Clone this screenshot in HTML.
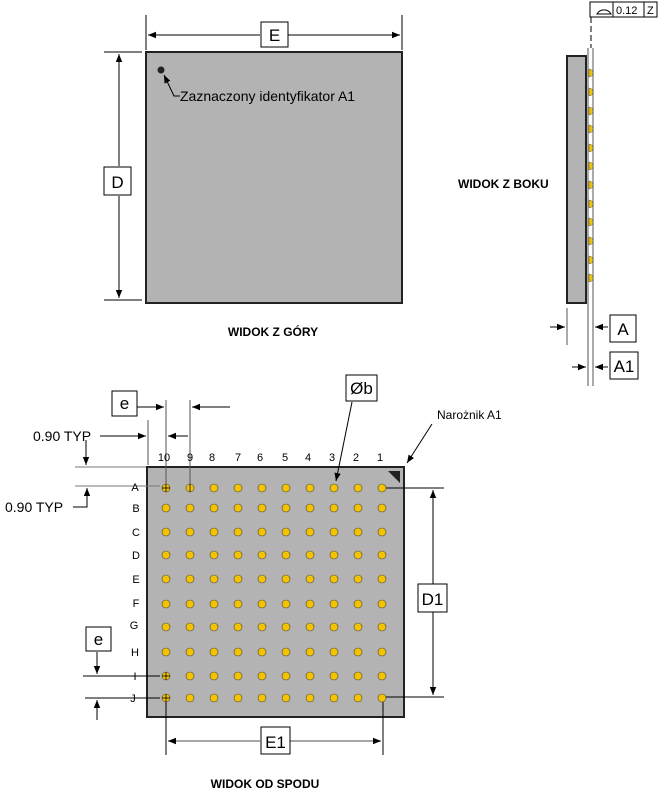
<!DOCTYPE html>
<html><head><meta charset="utf-8"><style>
html,body{margin:0;padding:0;background:#fff;}
svg{display:block;font-family:"Liberation Sans",Arial,sans-serif;}
</style></head><body>
<svg width="668" height="793" viewBox="0 0 668 793" xmlns="http://www.w3.org/2000/svg">
<defs>
<marker id="a" viewBox="0 0 10 10" refX="10" refY="5" markerWidth="8" markerHeight="8" orient="auto-start-reverse" markerUnits="userSpaceOnUse"><path d="M0,1 L10,5 L0,9 z" fill="#000"/></marker>
<circle id="b" r="4"/>
</defs>
<g stroke="#000" stroke-width="1" fill="none">
<rect x="146" y="52" width="256" height="251" fill="#b3b3b3" stroke="#222" stroke-width="2"/>
<line x1="146" y1="15" x2="146" y2="50"/>
<line x1="402" y1="15" x2="402" y2="50"/>
<line x1="148" y1="35" x2="260" y2="35" marker-start="url(#a)"/>
<line x1="288" y1="35" x2="400" y2="35" marker-end="url(#a)"/>
<line x1="104" y1="52" x2="142" y2="52"/>
<line x1="104" y1="300" x2="142" y2="300"/>
<line x1="119" y1="54" x2="119" y2="166" marker-start="url(#a)"/>
<line x1="119" y1="196" x2="119" y2="298" marker-end="url(#a)"/>
<polyline points="180,96 174,96 164,75" marker-end="url(#a)"/>
<rect x="567" y="56" width="19" height="247" fill="#b3b3b3" stroke="#222" stroke-width="2"/>
<line x1="588" y1="48" x2="588" y2="386" stroke="#555"/>
<line x1="593" y1="48" x2="593" y2="386" stroke="#555"/>
<line x1="591" y1="17" x2="591" y2="48" stroke-dasharray="6,3"/>
<rect x="590" y="2" width="67" height="15"/>
<line x1="613" y1="2" x2="613" y2="17"/>
<line x1="644" y1="2" x2="644" y2="17"/>
<path d="M597,14 A8,8 0 0 1 611,14 Z"/>
<line x1="567" y1="308" x2="567" y2="345" stroke="#555"/>
<line x1="550" y1="327" x2="565" y2="327" marker-end="url(#a)"/>
<line x1="608" y1="327" x2="595" y2="327" marker-end="url(#a)"/>
<line x1="572" y1="367" x2="586" y2="367" marker-end="url(#a)"/>
<line x1="608" y1="367" x2="595" y2="367" marker-end="url(#a)"/>
<rect x="610" y="315" width="26" height="27" fill="#fff"/>
<rect x="610" y="352" width="28" height="27" fill="#fff"/>
<rect x="147" y="467" width="257" height="250" fill="#b3b3b3" stroke="#222" stroke-width="2"/>
<polygon points="388,471 400,471 400,483" fill="#222" stroke="none"/>
<line x1="166" y1="400" x2="166" y2="490" stroke="#555"/>
<line x1="190" y1="400" x2="190" y2="490" stroke="#555"/>
<line x1="137" y1="407" x2="164" y2="407" marker-end="url(#a)"/>
<line x1="230" y1="407" x2="192" y2="407" marker-end="url(#a)"/>
<line x1="148" y1="420" x2="148" y2="465" stroke="#555"/>
<line x1="100" y1="436" x2="146" y2="436" marker-end="url(#a)"/>
<line x1="188" y1="436" x2="168" y2="436" marker-end="url(#a)"/>
<line x1="75" y1="467" x2="146" y2="467" stroke="#777"/>
<line x1="75" y1="486" x2="160" y2="486" stroke="#777"/>
<line x1="86" y1="440" x2="86" y2="465" marker-end="url(#a)"/>
<polyline points="73,507 87,507 87,488" marker-end="url(#a)"/>
<line x1="352" y1="402" x2="336" y2="481" marker-end="url(#a)"/>
<line x1="432" y1="424" x2="407" y2="463" marker-end="url(#a)"/>
<line x1="386" y1="488" x2="444" y2="488"/>
<line x1="386" y1="697" x2="444" y2="697"/>
<line x1="433" y1="490" x2="433" y2="584" marker-start="url(#a)"/>
<line x1="433" y1="612" x2="433" y2="695" marker-end="url(#a)"/>
<line x1="166" y1="700" x2="166" y2="755"/>
<line x1="383" y1="700" x2="383" y2="755"/>
<line x1="168" y1="741" x2="260" y2="741" stroke="#888" stroke-width="1.5" marker-start="url(#a)"/>
<line x1="290" y1="741" x2="381" y2="741" stroke="#888" stroke-width="1.5" marker-end="url(#a)"/>
<line x1="83" y1="676" x2="160" y2="676"/>
<line x1="85" y1="698" x2="160" y2="698"/>
<line x1="97" y1="652" x2="97" y2="674" marker-end="url(#a)"/>
<line x1="97" y1="720" x2="97" y2="700" marker-end="url(#a)"/>
</g>
<g fill="#fff" stroke="#000" stroke-width="1">
<rect x="261" y="22" width="27" height="25"/>
<rect x="104" y="167" width="27" height="28"/>
<rect x="112" y="391" width="25" height="25"/>
<rect x="346" y="375" width="31" height="26"/>
<rect x="418" y="584" width="29" height="28"/>
<rect x="261" y="727" width="29" height="27"/>
<rect x="86" y="627" width="25" height="24"/>
</g>
<circle cx="161" cy="70" r="3.5" fill="#222"/>
<g fill="#f5c400" stroke="#555" stroke-width="0.5">
<path d="M589,69 a4,4 0 0 1 0,8 z"/><path d="M589,88 a4,4 0 0 1 0,8 z"/><path d="M589,107 a4,4 0 0 1 0,8 z"/><path d="M589,125 a4,4 0 0 1 0,8 z"/><path d="M589,144 a4,4 0 0 1 0,8 z"/><path d="M589,162 a4,4 0 0 1 0,8 z"/><path d="M589,181 a4,4 0 0 1 0,8 z"/><path d="M589,200 a4,4 0 0 1 0,8 z"/><path d="M589,218 a4,4 0 0 1 0,8 z"/><path d="M589,237 a4,4 0 0 1 0,8 z"/><path d="M589,256 a4,4 0 0 1 0,8 z"/><path d="M589,274 a4,4 0 0 1 0,8 z"/>
</g>
<g fill="#f5c400" stroke="#444" stroke-width="0.6">
<g transform="translate(0,488)"><use href="#b" x="166"/><use href="#b" x="190"/><use href="#b" x="214"/><use href="#b" x="238"/><use href="#b" x="262"/><use href="#b" x="286"/><use href="#b" x="310"/><use href="#b" x="334"/><use href="#b" x="358"/><use href="#b" x="382"/></g>
<g transform="translate(0,508)"><use href="#b" x="166"/><use href="#b" x="190"/><use href="#b" x="214"/><use href="#b" x="238"/><use href="#b" x="262"/><use href="#b" x="286"/><use href="#b" x="310"/><use href="#b" x="334"/><use href="#b" x="358"/><use href="#b" x="382"/></g>
<g transform="translate(0,532)"><use href="#b" x="166"/><use href="#b" x="190"/><use href="#b" x="214"/><use href="#b" x="238"/><use href="#b" x="262"/><use href="#b" x="286"/><use href="#b" x="310"/><use href="#b" x="334"/><use href="#b" x="358"/><use href="#b" x="382"/></g>
<g transform="translate(0,555)"><use href="#b" x="166"/><use href="#b" x="190"/><use href="#b" x="214"/><use href="#b" x="238"/><use href="#b" x="262"/><use href="#b" x="286"/><use href="#b" x="310"/><use href="#b" x="334"/><use href="#b" x="358"/><use href="#b" x="382"/></g>
<g transform="translate(0,579)"><use href="#b" x="166"/><use href="#b" x="190"/><use href="#b" x="214"/><use href="#b" x="238"/><use href="#b" x="262"/><use href="#b" x="286"/><use href="#b" x="310"/><use href="#b" x="334"/><use href="#b" x="358"/><use href="#b" x="382"/></g>
<g transform="translate(0,604)"><use href="#b" x="166"/><use href="#b" x="190"/><use href="#b" x="214"/><use href="#b" x="238"/><use href="#b" x="262"/><use href="#b" x="286"/><use href="#b" x="310"/><use href="#b" x="334"/><use href="#b" x="358"/><use href="#b" x="382"/></g>
<g transform="translate(0,627)"><use href="#b" x="166"/><use href="#b" x="190"/><use href="#b" x="214"/><use href="#b" x="238"/><use href="#b" x="262"/><use href="#b" x="286"/><use href="#b" x="310"/><use href="#b" x="334"/><use href="#b" x="358"/><use href="#b" x="382"/></g>
<g transform="translate(0,652)"><use href="#b" x="166"/><use href="#b" x="190"/><use href="#b" x="214"/><use href="#b" x="238"/><use href="#b" x="262"/><use href="#b" x="286"/><use href="#b" x="310"/><use href="#b" x="334"/><use href="#b" x="358"/><use href="#b" x="382"/></g>
<g transform="translate(0,676)"><use href="#b" x="166"/><use href="#b" x="190"/><use href="#b" x="214"/><use href="#b" x="238"/><use href="#b" x="262"/><use href="#b" x="286"/><use href="#b" x="310"/><use href="#b" x="334"/><use href="#b" x="358"/><use href="#b" x="382"/></g>
<g transform="translate(0,698)"><use href="#b" x="166"/><use href="#b" x="190"/><use href="#b" x="214"/><use href="#b" x="238"/><use href="#b" x="262"/><use href="#b" x="286"/><use href="#b" x="310"/><use href="#b" x="334"/><use href="#b" x="358"/><use href="#b" x="382"/></g>
</g>
<g stroke="#000" stroke-width="0.8">
<line x1="162" y1="488" x2="170" y2="488"/><line x1="166" y1="484" x2="166" y2="492"/>
<line x1="162" y1="676" x2="170" y2="676"/><line x1="166" y1="672" x2="166" y2="680"/>
<line x1="162" y1="698" x2="170" y2="698"/><line x1="166" y1="694" x2="166" y2="702"/>
<line x1="190" y1="484" x2="190" y2="492"/>
</g>
<g font-size="14" fill="#000">
<text x="180" y="101">Zaznaczony identyfikator A1</text>
<text x="274.5" y="41" font-size="17" text-anchor="middle">E</text>
<text x="117.5" y="188" font-size="17" text-anchor="middle">D</text>
<text x="273" y="336" font-size="12" font-weight="bold" text-anchor="middle">WIDOK Z GÓRY</text>
<text x="458" y="188" font-size="12" font-weight="bold">WIDOK Z BOKU</text>
<text x="616" y="14" font-size="11">0.12</text>
<text x="647" y="14" font-size="11">Z</text>
<text x="623" y="335" font-size="17" text-anchor="middle">A</text>
<text x="624" y="372" font-size="17" text-anchor="middle">A1</text>
<text x="124.5" y="409" font-size="17" text-anchor="middle">e</text>
<text x="361.5" y="394" font-size="17" text-anchor="middle">Øb</text>
<text x="437" y="419" font-size="12">Narożnik A1</text>
<text x="33" y="441" font-size="14">0.90 TYP</text>
<text x="5" y="512" font-size="14">0.90 TYP</text>
<text x="432.5" y="605" font-size="17" text-anchor="middle">D1</text>
<text x="275.5" y="748" font-size="17" text-anchor="middle">E1</text>
<text x="98.5" y="645" font-size="17" text-anchor="middle">e</text>
<text x="265" y="788" font-size="12" font-weight="bold" text-anchor="middle">WIDOK OD SPODU</text>
</g>
<g font-size="11" fill="#000" text-anchor="middle">
<text x="164" y="461">10</text><text x="190" y="461">9</text><text x="212" y="461">8</text><text x="238" y="461">7</text><text x="260" y="461">6</text><text x="285" y="461">5</text><text x="308" y="461">4</text><text x="332" y="461">3</text><text x="356" y="461">2</text><text x="380" y="461">1</text>
<text x="135" y="491">A</text><text x="136" y="512">B</text><text x="136" y="536">C</text><text x="136" y="559">D</text><text x="136" y="583">E</text><text x="136" y="607">F</text><text x="134" y="629">G</text><text x="135" y="656">H</text><text x="135" y="680">I</text><text x="133" y="702">J</text>
</g>
</svg>
</body></html>
